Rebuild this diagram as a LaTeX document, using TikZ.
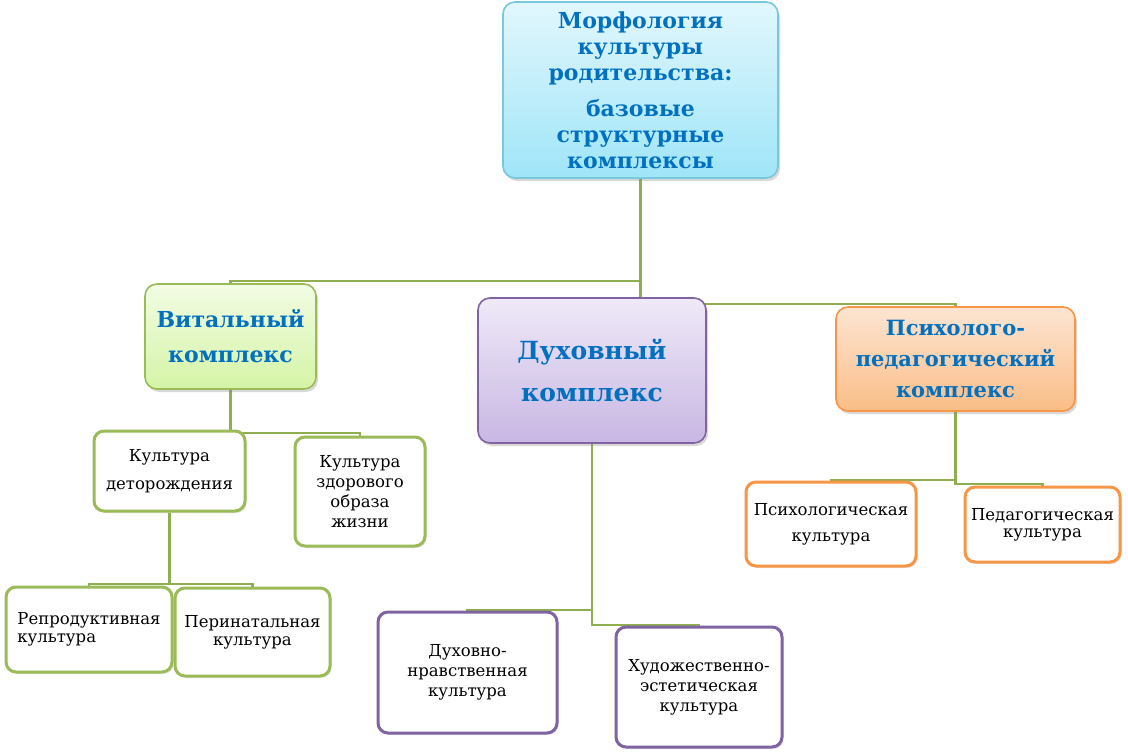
\documentclass[tikz,border=0pt]{standalone}
\usepackage{fontspec}
\setmainfont{DejaVu Serif}
\usetikzlibrary{shadows,backgrounds}

\definecolor{headblue}{HTML}{0070C0}
\definecolor{linegreen}{HTML}{8FAE50}
\definecolor{vitgreen}{HTML}{9BBB59}
\definecolor{duhpurple}{HTML}{8064A2}
\definecolor{psyorange}{HTML}{F79646}
\definecolor{topborder}{HTML}{78C8DC}
\definecolor{toptop}{HTML}{E2F7FD}
\definecolor{topbot}{HTML}{9FE5F8}
\definecolor{vittop}{HTML}{F2FCE4}
\definecolor{vitbot}{HTML}{D5F4A6}
\definecolor{duhtop}{HTML}{EFE9F8}
\definecolor{duhbot}{HTML}{C8B7E3}
\definecolor{psytop}{HTML}{FDE5D2}
\definecolor{psybot}{HTML}{FABD87}

\tikzset{
  head/.style={draw, rounded corners=12pt, line width=1.6pt, align=center,
    text=headblue, drop shadow={shadow xshift=2pt, shadow yshift=-3pt, opacity=0.3}},
  leaf/.style={draw, fill=white, rounded corners=10pt, line width=3pt, align=center,
    drop shadow={shadow xshift=1.5pt, shadow yshift=-2pt, opacity=0.2}},
  conn/.style={draw=linegreen, line width=2.2pt},
}

\begin{document}
\begin{tikzpicture}[x=1pt,y=-1pt]
    \useasboundingbox (0,0) rectangle (1128,754);

    % main box
    \node[head, draw=topborder, top color=toptop, bottom color=topbot,
      minimum width=275, minimum height=176,
      font=\fontsize{22}{26}\selectfont\bfseries] (top) at (640.5,90)
      {Морфология\\культуры\\родительства:\\[10pt]базовые\\структурные\\комплексы};

    % complexes
    \node[head, draw=vitgreen, top color=vittop, bottom color=vitbot,
      minimum width=171, minimum height=105,
      font=\fontsize{22}{35}\selectfont\bfseries] (vit) at (230.5,336.5)
      {Витальный\\комплекс};
    \node[head, draw=duhpurple, top color=duhtop, bottom color=duhbot,
      minimum width=228, minimum height=145,
      font=\fontsize{25}{42}\selectfont\bfseries] (duh) at (592,370.5)
      {Духовный\\комплекс};
    \node[head, draw=psyorange, top color=psytop, bottom color=psybot,
      minimum width=239, minimum height=104,
      font=\fontsize{21}{31}\selectfont\bfseries] (psy) at (955.5,359)
      {Психолого-\\педагогический\\комплекс};

    % vital
    \node[leaf, draw=vitgreen, minimum width=151, minimum height=80,
      font=\fontsize{16.5}{28}\selectfont] (det) at (169.5,471)
      {Культура\\деторождения};
    \node[leaf, draw=vitgreen, minimum width=130, minimum height=109,
      font=\fontsize{16.5}{20}\selectfont] (zdor) at (360,491.5)
      {Культура\\здорового\\образа\\жизни};
    \node[leaf, draw=vitgreen, minimum width=166, minimum height=85, align=left,
      font=\fontsize{16.5}{18}\selectfont] (rep) at (89,629.5)
      {Репродуктивная\\культура};
    \node[leaf, draw=vitgreen, minimum width=155, minimum height=88,
      font=\fontsize{16.5}{18}\selectfont] (per) at (252.5,632)
      {Перинатальная\\культура};

    % spiritual
    \node[leaf, draw=duhpurple, minimum width=179, minimum height=121,
      font=\fontsize{16.5}{20}\selectfont] (dn) at (467.5,672.5)
      {Духовно-\\нравственная\\культура};
    \node[leaf, draw=duhpurple, minimum width=166, minimum height=120,
      font=\fontsize{16.5}{20}\selectfont] (he) at (699,687)
      {Художественно-\\эстетическая\\культура};

    % psycho-pedagogical
    \node[leaf, draw=psyorange, minimum width=170, minimum height=84,
      font=\fontsize{16.5}{26}\selectfont] (pl) at (831,524)
      {Психологическая\\культура};
    \node[leaf, draw=psyorange, minimum width=155, minimum height=75,
      font=\fontsize{16.5}{17}\selectfont] (pg) at (1042.5,524.5)
      {Педагогическая\\культура};

    \begin{scope}[on background layer]
      \fill[white] (0,0) rectangle (1128,754);
      \coordinate (jv) at (640.5,281);
      \coordinate (jp) at (640.5,304);
      \coordinate (jz) at (230.5,433);
      \coordinate (jr) at (169.5,584);
      \coordinate (jd) at (592,610);
      \coordinate (jh) at (592,625);
      \coordinate (jl) at (955.5,480);
      \coordinate (jg) at (955.5,484);
      \draw[conn] (top.south) -- (top.south |- duh.north);
      \draw[conn] (jv) -| (vit.north);
      \draw[conn] (jp) -| (psy.north);
      \draw[conn] (vit.south) -- (jz) -| (zdor.north);
      \draw[conn] (det.south) -- (jr) -| (rep.north);
      \draw[conn] (jr) -| (per.north);
      \draw[conn] (duh.south) -- (jh) -| (he.north);
      \draw[conn] (jd) -| (dn.north);
      \draw[conn] (psy.south) -- (jg) -| (pg.north);
      \draw[conn] (jl) -| (pl.north);
    \end{scope}
\end{tikzpicture}
\end{document}
